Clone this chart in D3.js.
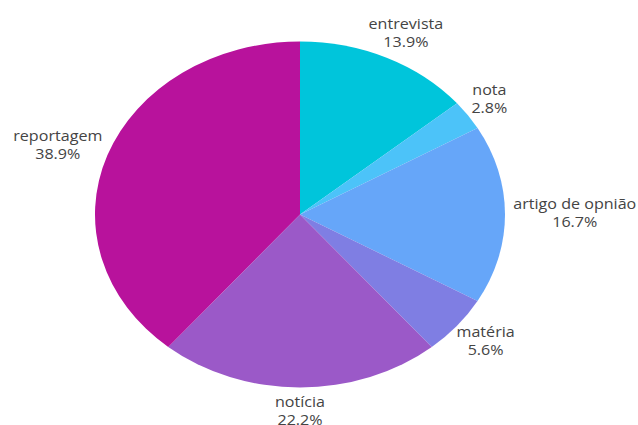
<!DOCTYPE html>
<html>
<head>
<meta charset="utf-8">
<script src="https://cdn.jsdelivr.net/npm/d3@7"></script>
<style>
  body { margin: 0; background: #fff; }
  svg text { font-family: "Open Sans", sans-serif; }
</style>
</head>
<body>
<div id="chart"></div>
<script>
const categories = ["entrevista", "nota", "artigo de opnião", "matéria", "notícia", "reportagem"];
const counts = [5, 1, 6, 2, 8, 14];
const colors = ["#00c5db", "#4cc3f9", "#66a6f9", "#7f7ee3", "#9b59c8", "#b8129c"];

const width = 638, height = 425;
const cx = 300, cy = 214.5, rx = 205, ry = 173;
const stretch = rx / ry;
const textStretch = 1.15;
const labelR = 1.04;

const data = categories.map((c, i) => ({ name: c, value: counts[i] }));
const total = d3.sum(counts);

const svg = d3.select("#chart")
    .append("svg")
    .attr("width", width)
    .attr("height", height);

const pie = d3.pie()
    .value(d => d.value)
    .sort(null);

const arcs = pie(data);

const arc = d3.arc()
    .innerRadius(0)
    .outerRadius(ry);

const color = d3.scaleOrdinal(categories, colors);

svg.append("g")
    .attr("transform", `translate(${cx},${cy}) scale(${stretch},1)`)
    .selectAll("path")
    .data(arcs)
    .join("path")
    .attr("d", arc)
    .attr("fill", d => color(d.data.name));

const labels = svg.append("g")
    .selectAll("text")
    .data(arcs)
    .join("text")
    .attr("text-anchor", "middle")
    .style("font-size", "14px")
    .attr("fill", "#444");

labels.append("tspan")
    .attr("x", 0)
    .attr("dy", 0)
    .text(d => d.data.name);

labels.append("tspan")
    .attr("x", 0)
    .attr("dy", 18)
    .text(d => (d.data.value / total * 100).toFixed(1) + "%");

// push each label box out so its nearest edge sits on the label ellipse
labels.each(function(d) {
    const a = (d.startAngle + d.endAngle) / 2;
    const bb = this.getBBox();
    const w = bb.width * textStretch;
    const px = cx + labelR * rx * Math.sin(a);
    const py = cy - labelR * ry * Math.cos(a);
    const mx = px + w / 2 * Math.sin(a);
    const my = py - bb.height / 2 * Math.cos(a) - 2;
    const ty = my - (bb.y + bb.height / 2);
    d3.select(this).attr("transform", `translate(${mx},${ty}) scale(${textStretch},1)`);
});
</script>
</body>
</html>
